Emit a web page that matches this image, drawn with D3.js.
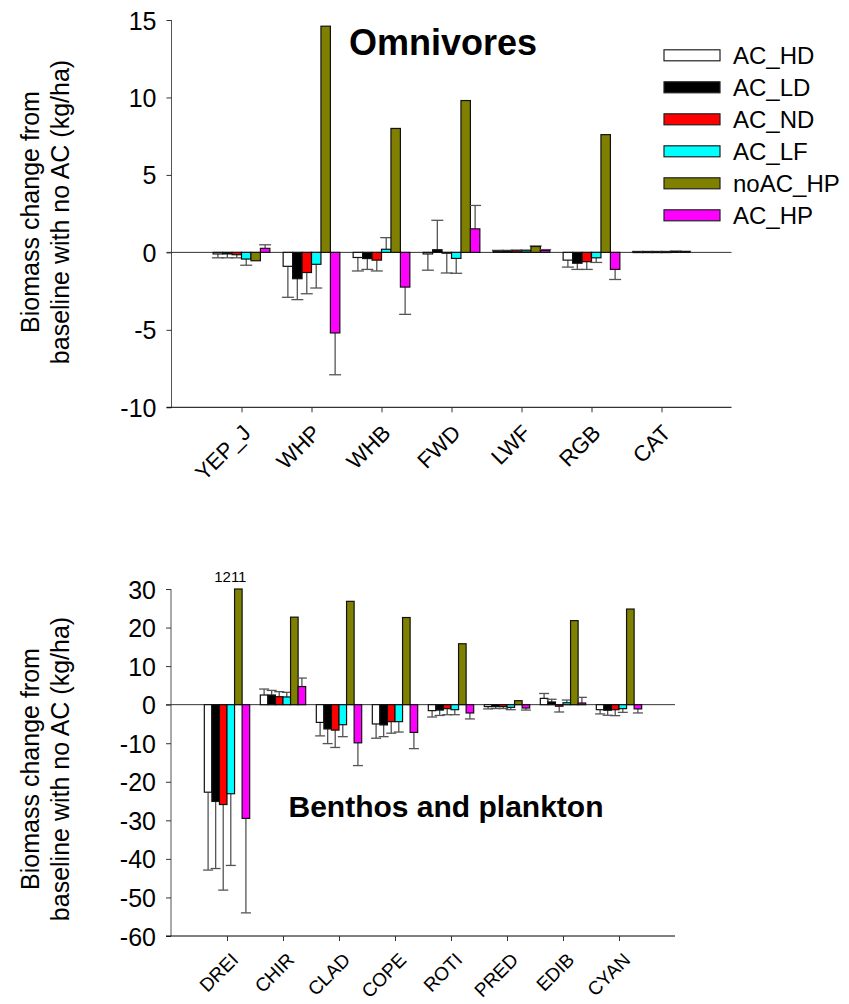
<!DOCTYPE html>
<html><head><meta charset="utf-8">
<script src="https://cdn.jsdelivr.net/npm/d3@7"></script>
<style>body{margin:0;background:#fff;} text{font-family:"Liberation Sans",Arial,sans-serif;}</style>
</head><body>
<svg id="c" width="849" height="1004"></svg>
<script>
const series = ["AC_HD","AC_LD","AC_ND","AC_LF","noAC_HP","AC_HP"];
const colors = ["#ffffff","#000000","#ff0000","#00ffff","#808000","#ff00ff"];

// Omnivores panel
const topCats = ["YEP_J","WHP","WHB","FWD","LWF","RGB","CAT"];
const topTicks = [-10,-5,0,5,10,15];
// values per category, in series order
const topVals = [
  [-0.1,-0.1,-0.15,-0.43,-0.54,0.26],
  [-0.9,-1.7,-1.3,-0.77,14.6,-5.2],
  [-0.33,-0.4,-0.5,0.2,8.0,-2.24],
  [-0.1,0.17,-0.05,-0.39,9.8,1.52],
  [0.08,0.08,0.1,0.1,0.38,0.12],
  [-0.5,-0.7,-0.6,-0.35,7.6,-1.1],
  [0.04,0.04,0.04,0.04,0.06,0.05]
];
const topErr = [
  [0.25,0.25,0.2,0.4,0,0.23],
  [2.0,1.35,1.37,1.53,0,2.7],
  [0.87,0.7,0.7,0.75,0,1.76],
  [1.05,1.9,1.28,0.96,0,1.51],
  [0.05,0.05,0.05,0.05,0.03,0.06],
  [0.45,0.4,0.5,0.3,0,0.65],
  [0.02,0.02,0.02,0.02,0.02,0.02]
];

// Benthos and plankton panel
const botCats = ["DREI","CHIR","CLAD","COPE","ROTI","PRED","EDIB","CYAN"];
const botTicks = [-60,-50,-40,-30,-20,-10,0,10,20,30];
const botVals = [
  [-22.7,-25.1,-25.9,-23.1,1211,-29.5],
  [2.5,2.5,2.07,2.0,22.7,4.7],
  [-4.6,-6.3,-6.6,-5.2,26.8,-9.9],
  [-5.0,-5.25,-4.4,-4.4,22.6,-7.2],
  [-1.55,-1.4,-1.03,-1.3,15.8,-2.15],
  [-0.5,-0.5,-0.5,-0.7,1.03,-0.87],
  [1.63,0.7,-0.4,0.5,21.8,0.43],
  [-1.3,-1.45,-1.3,-1.03,24.8,-1.1]
];
const botErr = [
  [20.2,17.4,22.2,18.6,0,24.5],
  [1.55,1.2,1.3,1.2,0,2.2],
  [3.5,3.8,4.5,3.1,0,5.9],
  [3.7,3.05,3.0,2.7,0,4.2],
  [1.65,1.4,1.57,1.3,0,1.55],
  [0.6,0.5,0.5,0.6,0,0.53],
  [1.27,0.7,1.5,0.7,0,1.47],
  [1.1,1.3,1.55,0.97,0,1.05]
];

const svg = d3.select("#c");
const FF = "Liberation Sans, Arial, sans-serif";

function panel(cfg){
  const g = svg.append("g");
  const x = d3.scaleLinear().domain([0, cfg.cats.length+1]).range(cfg.xr);
  const y = d3.scaleLinear().domain(cfg.yd).range(cfg.yr).clamp(true);
  const gw = (x(1)-x(0))*0.81;
  const sb = d3.scaleBand().domain(series).range([-gw/2, gw/2]);

  // axes
  const yAxis = d3.axisLeft(y).tickValues(cfg.ticks).tickSize(5).tickPadding(10).tickFormat(d=>String(d));
  const ya = g.append("g").attr("transform",`translate(${cfg.xr[0]},0)`).call(yAxis);
  ya.select(".domain").attr("stroke","#555").attr("d",`M0,${cfg.yr[0]}V${cfg.yr[1]}`);
  ya.selectAll(".tick line").attr("stroke","#333");
  ya.selectAll("text").attr("font-size",25).attr("fill","#000").style("font-family",FF).attr("dy","0.36em");

  const xAxis = d3.axisBottom(x).tickValues(d3.range(1,cfg.cats.length+1)).tickSize(5).tickFormat(i=>cfg.cats[i-1]);
  const xa = g.append("g").attr("transform",`translate(0,${cfg.yr[0]})`).call(xAxis);
  xa.select(".domain").attr("stroke","#000").attr("d",`M${cfg.xr[0]-5},0H${cfg.xr[1]}`);
  xa.selectAll(".tick line").attr("stroke","#333");
  xa.selectAll("text").attr("font-size",cfg.lab[2]).attr("fill","#000")
    .style("font-family",FF)
    .attr("text-anchor","end").attr("dy",null).attr("y",0)
    .attr("transform",`translate(${cfg.lab[0]},${cfg.lab[1]}) rotate(-45)`);

  // zero line
  g.append("line").attr("x1",cfg.xr[0]-5).attr("x2",cfg.xr[1]).attr("y1",y(0)).attr("y2",y(0)).attr("stroke","#333").attr("stroke-width",1);

  // bars
  cfg.cats.forEach((c,i)=>{
    const cx = x(i+1);
    series.forEach((s,j)=>{
      const v = cfg.vals[i][j], e = cfg.err[i][j];
      const bx = cx + sb(s), bw = sb.bandwidth();
      const y0 = y(0), y1 = y(v);
      if(e>0){
        const ye = y(v + (v>=0?e:-e));
        const mx = bx + bw/2;
        g.append("line").attr("x1",mx).attr("x2",mx).attr("y1",y1).attr("y2",ye).attr("stroke","#555").attr("stroke-width",1.3);
        g.append("line").attr("x1",mx-cfg.cap).attr("x2",mx+cfg.cap).attr("y1",ye).attr("y2",ye).attr("stroke","#555").attr("stroke-width",1.3);
      }
      g.append("rect").attr("x",bx).attr("width",bw)
        .attr("y",Math.min(y0,y1)).attr("height",Math.max(0.8,Math.abs(y1-y0)))
        .attr("fill",colors[j]).attr("stroke","#111").attr("stroke-width",1.2);
      if(cfg.yd[1] < v){
        g.append("text").attr("x",bx+bw/2-8).attr("y",y(cfg.yd[1])-7).attr("text-anchor","middle")
          .attr("font-size",15).text(v);
      }
    });
  });

  // title
  g.append("text").attr("x",cfg.title[1]).attr("y",cfg.title[2]).attr("text-anchor","middle")
    .attr("font-size",cfg.title[3]).attr("font-weight","bold").text(cfg.title[0]);
  // y label
  const ly = g.append("text").attr("transform",`translate(0,${cfg.ylabY}) rotate(-90)`).attr("text-anchor","middle").attr("font-size",25);
  ly.append("tspan").attr("x",0).attr("y",39).text("Biomass change from");
  ly.append("tspan").attr("x",0).attr("y",69).text("baseline with no AC (kg/ha)");
}

panel({cats:topCats, vals:topVals, err:topErr, ticks:topTicks, xr:[171.5,731.5], yd:[-10,15], yr:[407.3,20], cap:6,
  lab:[10,27,22], title:["Omnivores",443,55,36], ylabY:212});
panel({cats:botCats, vals:botVals, err:botErr, ticks:botTicks, xr:[171,675], yd:[-60,30], yr:[936,589], cap:5,
  lab:[12,25,19], title:["Benthos and plankton",446,817,30], ylabY:769});

// legend
const lg = svg.append("g");
series.forEach((s,j)=>{
  const yy = 55.3 + j*32;
  lg.append("rect").attr("x",664).attr("y",yy-5.5).attr("width",56).attr("height",11)
    .attr("fill",colors[j]).attr("stroke","#222").attr("stroke-width",1.2);
  lg.append("text").attr("x",733).attr("y",yy+8.5).attr("font-size",24).text(s);
});
</script>
</body></html>
